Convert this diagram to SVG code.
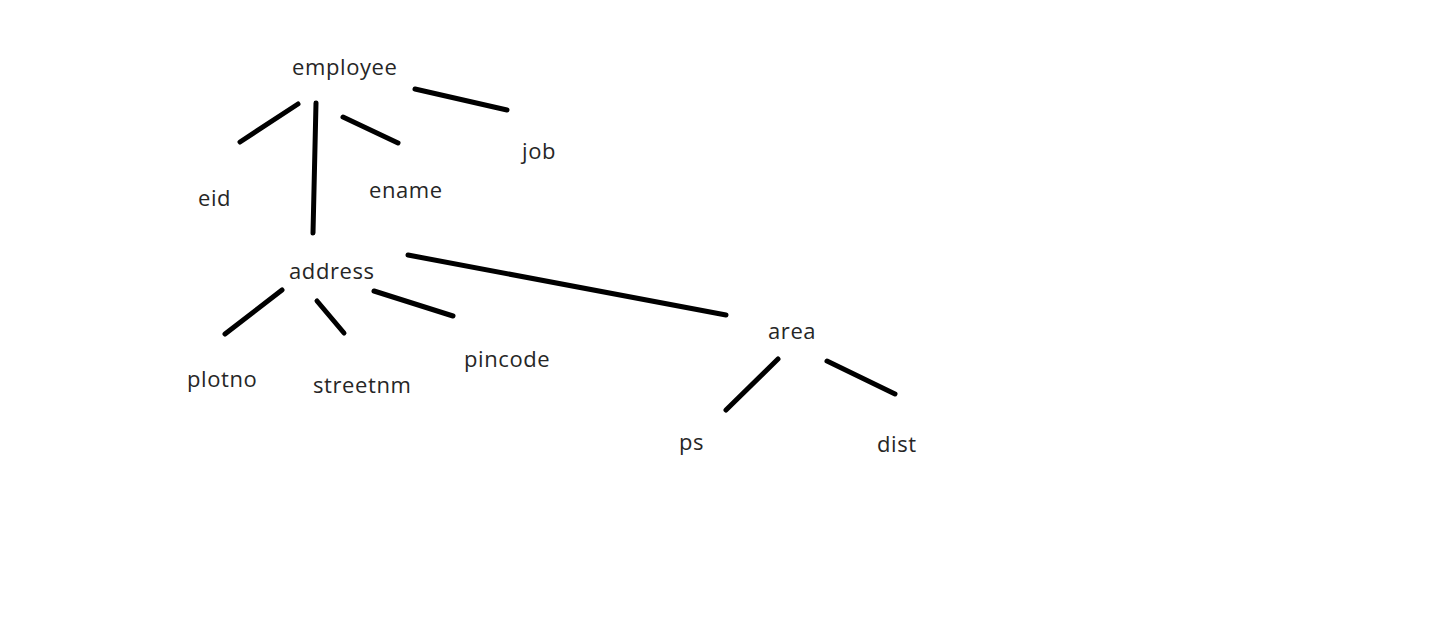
<svg xmlns="http://www.w3.org/2000/svg" width="1443" height="633" viewBox="0 0 1443 633">
<style>
.t{font-family:"Open Sans","Noto Sans","DejaVu Sans",sans-serif;font-size:22px;letter-spacing:0.6px;fill:#262626}
.c line{stroke:#000;stroke-width:5;stroke-linecap:round}
</style>
<rect width="1443" height="633" fill="#fff"/>
<g class="c" id="connectors">
<line x1="298" y1="104" x2="240" y2="142"/>
<line x1="316" y1="103" x2="313" y2="233"/>
<line x1="343" y1="117" x2="398" y2="143"/>
<line x1="415" y1="89" x2="507" y2="110"/>
<line x1="282" y1="290" x2="225" y2="334"/>
<line x1="317" y1="301" x2="344" y2="333"/>
<line x1="374" y1="291" x2="453" y2="316"/>
<line x1="408" y1="255" x2="726" y2="315"/>
<line x1="778" y1="359" x2="726" y2="410"/>
<line x1="827" y1="361" x2="895" y2="394"/>
</g>
<g id="employee"><text class="t" x="292" y="75">employee</text></g>
<g id="eid"><text class="t" x="198" y="206">eid</text></g>
<g id="ename"><text class="t" x="369" y="198">ename</text></g>
<g id="job"><text class="t" x="522" y="159">job</text></g>
<g id="address"><text class="t" x="289" y="279">address</text></g>
<g id="plotno"><text class="t" x="187" y="387">plotno</text></g>
<g id="streetnm"><text class="t" x="313" y="393">streetnm</text></g>
<g id="pincode"><text class="t" x="464" y="367">pincode</text></g>
<g id="area"><text class="t" x="768" y="339">area</text></g>
<g id="ps"><text class="t" x="679" y="450">ps</text></g>
<g id="dist"><text class="t" x="877" y="452">dist</text></g>
</svg>
